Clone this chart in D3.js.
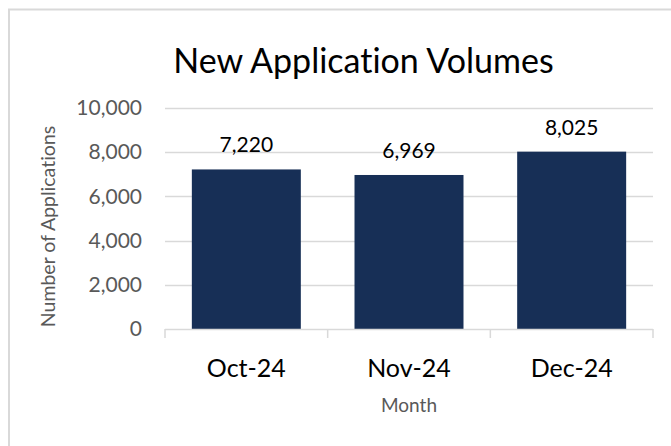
<!DOCTYPE html>
<html>
<head>
<meta charset="utf-8">
<script src="https://cdn.jsdelivr.net/npm/d3@7/dist/d3.min.js"></script>
<style>
  html, body { margin: 0; padding: 0; background: #fff; }
  svg { display: block; font-family: Lato, "Open Sans", sans-serif; font-variant-ligatures: none; font-feature-settings: "liga" 0, "clig" 0; }
</style>
</head>
<body>
<svg id="chart" width="671" height="446"></svg>
<script>
const months = ["Oct-24", "Nov-24", "Dec-24"];
const applications = [7220, 6969, 8025];
const yTicks = [0, 2000, 4000, 6000, 8000, 10000];
const chartTitle = "New Application Volumes";
const yTitle = "Number of Applications";
const xTitle = "Month";

const svg = d3.select("#chart");
const W = 671, H = 446;
const plot = { left: 165, right: 653, top: 108, bottom: 329 };

// outer border (cropped at right/bottom)
svg.append("rect")
  .attr("x", 9).attr("y", 9.5)
  .attr("width", W + 20).attr("height", H + 20)
  .attr("fill", "#fff")
  .attr("stroke", "#d9d9d9").attr("stroke-width", 2);

const x = d3.scaleBand()
  .domain(months)
  .range([plot.left, plot.right])
  .paddingInner(0.33)
  .paddingOuter(0.165);

const y = d3.scaleLinear()
  .domain([0, 10000])
  .range([plot.bottom, plot.top]);

const fmt = d3.format(",");

// gridlines
svg.append("g")
  .selectAll("line")
  .data(yTicks.filter(d => d > 0))
  .join("line")
  .attr("x1", plot.left).attr("x2", plot.right)
  .attr("y1", d => Math.round(y(d)) + 0.5).attr("y2", d => Math.round(y(d)) + 0.5)
  .attr("stroke", "#d9d9d9").attr("stroke-width", 1.5);

// y axis labels
const yAxis = d3.axisLeft(y).tickValues(yTicks).tickFormat(fmt).tickSize(0).tickPadding(0);
const gy = svg.append("g").attr("transform", `translate(142,0)`).call(yAxis);
gy.select(".domain").remove();
gy.selectAll("text")
  .attr("fill", "#595959")
  .attr("font-size", "21px")
  .attr("font-family", "Lato, sans-serif");

// bars
svg.append("g")
  .selectAll("rect")
  .data(months.map((m, i) => ({ m, v: applications[i] })))
  .join("rect")
  .attr("x", d => x(d.m))
  .attr("y", d => y(d.v))
  .attr("width", x.bandwidth())
  .attr("height", d => y(0) - y(d.v))
  .attr("fill", "#172f56");

// data labels
svg.append("g")
  .selectAll("text")
  .data(months.map((m, i) => ({ m, v: applications[i] })))
  .join("text")
  .attr("x", d => x(d.m) + x.bandwidth() / 2)
  .attr("y", d => y(d.v) - 17)
  .attr("text-anchor", "middle")
  .attr("font-size", "21px")
  .attr("fill", "#000")
  .text(d => fmt(d.v));

// x axis with boundary ticks
const step = x.step();
const bounds = [plot.left].concat(months.map(m => x(m) + x.bandwidth() + x.paddingInner() * step / 2));
bounds[bounds.length - 1] = plot.right;
const gx = svg.append("g");
gx.append("line")
  .attr("x1", plot.left).attr("x2", plot.right)
  .attr("y1", plot.bottom + 0.5).attr("y2", plot.bottom + 0.5)
  .attr("stroke", "#d9d9d9").attr("stroke-width", 1.5);
gx.selectAll("line.tick")
  .data(bounds)
  .join("line")
  .attr("class", "tick")
  .attr("x1", d => d).attr("x2", d => d)
  .attr("y1", plot.bottom).attr("y2", plot.bottom + 9)
  .attr("stroke", "#d9d9d9").attr("stroke-width", 1.5);
gx.selectAll("text")
  .data(months)
  .join("text")
  .attr("x", d => x(d) + x.bandwidth() / 2)
  .attr("y", 377)
  .attr("text-anchor", "middle")
  .attr("font-size", "25px")
  .attr("fill", "#000")
  .text(d => d);

// axis titles
svg.append("text")
  .attr("x", (plot.left + plot.right) / 2)
  .attr("y", 412)
  .attr("text-anchor", "middle")
  .attr("font-size", "19px")
  .attr("fill", "#595959")
  .text(xTitle);

svg.append("text")
  .attr("transform", `translate(55,${(120 + 333) / 2}) rotate(-90)`)
  .attr("text-anchor", "middle")
  .attr("font-size", "19.5px")
  .attr("fill", "#595959")
  .text(yTitle);

// title
svg.append("text")
  .attr("x", 363.5)
  .attr("y", 73)
  .attr("text-anchor", "middle")
  .attr("font-size", "34px")
  .attr("fill", "#000")
  .text(chartTitle);
</script>
</body>
</html>
